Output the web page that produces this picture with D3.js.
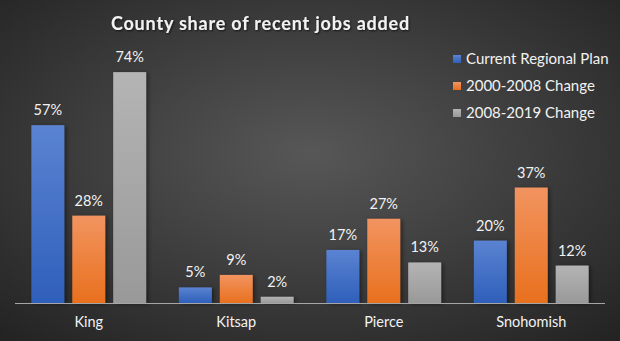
<!DOCTYPE html>
<html>
<head>
<meta charset="utf-8">
<script src="https://cdn.jsdelivr.net/npm/d3@7"></script>
<style>
  html, body { margin: 0; padding: 0; background: #333; }
  svg { display: block; }
</style>
</head>
<body>
<svg id="chart" width="620" height="341"></svg>
<script>
// County share of recent jobs added, by period
const counties = ["King", "Kitsap", "Pierce", "Snohomish"];
const seriesNames = ["Current Regional Plan", "2000-2008 Change", "2008-2019 Change"];
const regionalPlan = [57, 5, 17, 20];
const change2000to2008 = [28, 9, 27, 37];
const change2008to2019 = [74, 2, 13, 12];
const seriesValues = [regionalPlan, change2000to2008, change2008to2019];

const W = 620, H = 341;
const svg = d3.select("#chart");
const defs = svg.append("defs");

// Background: dark radial vignette
const bg = defs.append("radialGradient").attr("id", "bg")
  .attr("cx", "50%").attr("cy", "45%").attr("r", "75%");
bg.append("stop").attr("offset", "0%").attr("stop-color", "#575757");
bg.append("stop").attr("offset", "100%").attr("stop-color", "#222222");
svg.append("rect").attr("width", W).attr("height", H).attr("fill", "url(#bg)");

// Bar fills (vertical gradients)
const palette = [
  { top: "#5b83d2", bottom: "#2e5fba" },
  { top: "#f29460", bottom: "#e8701e" },
  { top: "#b4b4b4", bottom: "#999999" }
];
palette.forEach((c, i) => {
  const g = defs.append("linearGradient").attr("id", "bar" + i)
    .attr("x1", 0).attr("y1", 0).attr("x2", 0).attr("y2", 1);
  g.append("stop").attr("offset", "0%").attr("stop-color", c.top);
  g.append("stop").attr("offset", "100%").attr("stop-color", c.bottom);
});

const shadow = defs.append("filter").attr("id", "shadow")
  .attr("x", "-30%").attr("y", "-30%").attr("width", "160%").attr("height", "160%");
shadow.append("feDropShadow").attr("dx", 2).attr("dy", 1).attr("stdDeviation", 2)
  .attr("flood-color", "#000").attr("flood-opacity", 0.45);

const titleShadow = defs.append("filter").attr("id", "tshadow")
  .attr("x", "-10%").attr("y", "-30%").attr("width", "120%").attr("height", "160%");
titleShadow.append("feDropShadow").attr("dx", 1).attr("dy", 1).attr("stdDeviation", 1)
  .attr("flood-color", "#000").attr("flood-opacity", 0.7);

const font = "Lato, 'Open Sans', sans-serif";

// Scales
const baseline = 303;
const y = d3.scaleLinear().domain([0, 80]).range([baseline, baseline - 249.6]);
const x0 = d3.scaleBand().domain(counties).range([15, 605]).padding(0);
const x1 = d3.scaleBand().domain(d3.range(seriesNames.length))
  .range([0, x0.bandwidth()]).paddingInner(0.195).paddingOuter(0.4);

// Bars
const groups = svg.append("g").selectAll("g")
  .data(counties)
  .join("g")
  .attr("transform", d => `translate(${x0(d)},0)`);

groups.selectAll("rect")
  .data((c, ci) => seriesValues.map((vals, si) => ({ si, v: vals[ci] })))
  .join("rect")
  .attr("x", d => x1(d.si))
  .attr("width", x1.bandwidth())
  .attr("y", d => y(d.v))
  .attr("height", d => baseline - y(d.v))
  .attr("fill", d => `url(#bar${d.si})`)
  .attr("filter", "url(#shadow)");

// Value labels
groups.selectAll("text")
  .data((c, ci) => seriesValues.map((vals, si) => ({ si, v: vals[ci] })))
  .join("text")
  .attr("x", d => x1(d.si) + x1.bandwidth() / 2)
  .attr("y", d => y(d.v) - 10)
  .attr("text-anchor", "middle")
  .attr("fill", "#f2f2f2")
  .style("font-family", font)
  .style("font-size", "14.5px")
  .text(d => d.v + "%");

// Category axis
const xAxis = svg.append("g").attr("transform", `translate(0,${baseline})`)
  .call(d3.axisBottom(x0).tickSize(0).tickPadding(14));
xAxis.select(".domain").attr("stroke", "#a6a6a6").attr("stroke-width", 1.2)
  .attr("d", `M15,0.5H605`);
xAxis.selectAll("text")
  .attr("fill", "#f2f2f2")
  .style("font-family", font)
  .style("font-size", "14.5px");

// Title
svg.append("text")
  .attr("x", 260.5).attr("y", 30)
  .attr("text-anchor", "middle")
  .attr("fill", "#f2f2f2")
  .attr("filter", "url(#tshadow)")
  .style("font-family", font)
  .style("font-weight", "bold")
  .style("font-size", "18px")
  .style("letter-spacing", "0.8px")
  .text("County share of recent jobs added");

// Legend
const legend = svg.append("g").attr("transform", "translate(453,59)");
const rows = legend.selectAll("g").data(seriesNames).join("g")
  .attr("transform", (d, i) => `translate(0,${i * 27})`);
rows.append("rect").attr("x", 0).attr("y", -4).attr("width", 8).attr("height", 8)
  .attr("fill", (d, i) => `url(#bar${i})`);
rows.append("text").attr("x", 13).attr("y", 5)
  .attr("fill", "#f2f2f2")
  .style("font-family", font)
  .style("font-size", "15px")
  .text(d => d);
</script>
</body>
</html>
